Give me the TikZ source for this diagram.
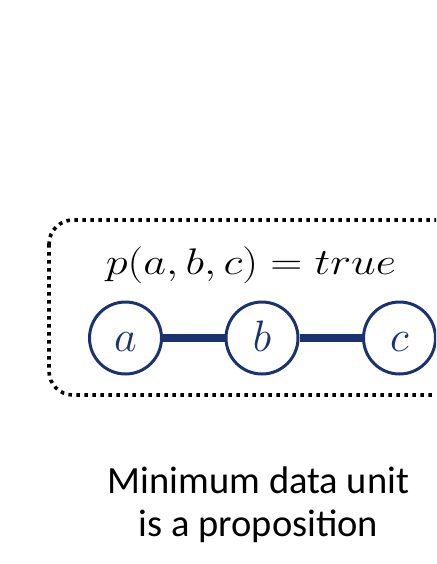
\RequirePackage{fix-cm}
\documentclass[tikz,border=0pt]{standalone}
\usepackage{fontspec}
\newfontfamily\carlito{Carlito}
\definecolor{navy}{HTML}{1B3270}
\begin{document}
\begin{tikzpicture}[x=1pt,y=1pt,
  vert/.style={circle,draw=navy,line width=3pt,fill=white,minimum size=72pt,inner sep=0pt,text=navy,
    font=\fontsize{44}{44}\selectfont,text height=30pt,text depth=4pt},
  edge/.style={draw=navy,line width=8pt},
  dotbox/.style={draw=black,line width=3.6pt,dash pattern=on 3.6pt off 4.4pt,rounded corners=24pt}]
\useasboundingbox (0,0) rectangle (436,-564);
\clip (0,0) rectangle (436,-564);
\draw[dotbox] (49,-220) rectangle (480,-395);
\begin{scope}[shift={(251,-274)},xscale=1.2]
\node[anchor=base,transform shape,font=\fontsize{37}{42}\selectfont] (prop) at (0,0) {$p(a,b,c)=true$};
\end{scope}
\node[vert] (a) at (125.5,-338) {$a$};
\node[vert] (b) at (262,-338) {$b$};
\node[vert] (c) at (399.5,-338) {$c$};
\draw[edge] (a) -- (b);
\draw[edge] (b) -- (c);
\node[anchor=base,align=center,font=\carlito\fontsize{38.5}{43}\selectfont] (cap) at (258.5,-536) {Minimum data unit\\is a proposition};
\end{tikzpicture}
\end{document}
